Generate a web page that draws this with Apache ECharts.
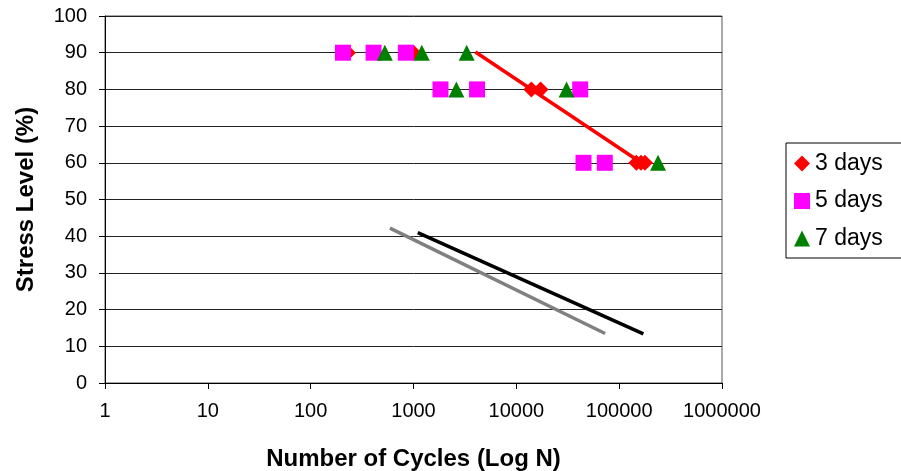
<!DOCTYPE html>
<html>
<head>
<meta charset="utf-8">
<script src="https://cdn.jsdelivr.net/npm/echarts@6/dist/echarts.min.js"></script>
<style>
html,body{margin:0;padding:0;background:#fff;}
#chart{width:901px;height:471px;}
</style>
</head>
<body>
<div id="chart"></div>
<script>
// Data
const xTicks = [1, 10, 100, 1000, 10000, 100000, 1000000];
const yTicks = [0, 10, 20, 30, 40, 50, 60, 70, 80, 90, 100];

const days3N = [230, 1000, 14000, 17200, 147000, 163000, 178000];
const days3S = [90, 90, 80, 80, 60, 60, 60];

const days5N = [206, 409, 842, 1830, 4150, 41800, 45000, 72500];
const days5S = [90, 90, 90, 80, 80, 80, 60, 60];

const days7N = [526, 1205, 3290, 2610, 30800, 239000];
const days7S = [90, 90, 90, 80, 80, 60];

const redLineN = [4000, 160000];
const redLineS = [90.2, 60.2];

const blackLineN = [1100, 172000];
const blackLineS = [41, 13.4];

const grayLineN = [590, 73000];
const grayLineS = [42.2, 13.5];

const zip = (a, b) => a.map((v, i) => [v, b[i]]);

const chart = echarts.init(document.getElementById('chart'), null, {renderer: 'canvas'});
const font = 'Liberation Sans, Arial, sans-serif';

chart.setOption({
  animation: false,
  backgroundColor: '#fff',
  grid: {
    left: 105, top: 16, width: 617, height: 367,
    containLabel: false, outerBoundsMode: 'none',
    show: true, borderColor: '#555', borderWidth: 1, backgroundColor: 'transparent'
  },
  legend: {
    orient: 'vertical',
    left: 786, top: 143,
    data: ['3 days', '5 days', '7 days'],
    itemWidth: 16, itemHeight: 16,
    itemGap: 14.5,
    padding: [9, 40, 8, 8],
    borderColor: '#000', borderWidth: 1,
    textStyle: {fontFamily: font, fontSize: 23, color: '#000', lineHeight: 22}
  },
  xAxis: {
    type: 'log', logBase: 10, min: xTicks[0], max: xTicks[xTicks.length - 1],
    interval: 1,
    name: 'Number of Cycles (Log N)', nameLocation: 'middle', nameGap: 64,
    nameTextStyle: {fontFamily: font, fontSize: 24, fontWeight: 'bold', color: '#000'},
    axisLine: {show: true, lineStyle: {color: '#000', width: 1}},
    axisTick: {show: true, inside: false, length: 6, lineStyle: {color: '#000'}},
    axisLabel: {
      margin: 18, fontFamily: font, fontSize: 20, color: '#000',
      formatter: v => String(Math.round(v)),
      showMinLabel: true, showMaxLabel: true
    },
    splitLine: {show: false},
    minorTick: {show: false}
  },
  yAxis: {
    type: 'value', min: yTicks[0], max: yTicks[yTicks.length - 1], interval: 10,
    name: 'Stress Level (%)', nameLocation: 'middle', nameGap: 67, nameRotate: 90,
    nameTextStyle: {fontFamily: font, fontSize: 24, fontWeight: 'bold', color: '#000'},
    axisLine: {show: true, lineStyle: {color: '#000', width: 1}},
    axisTick: {show: true, inside: false, length: 6, lineStyle: {color: '#000'}},
    axisLabel: {margin: 18, fontFamily: font, fontSize: 20, color: '#000'},
    splitLine: {show: true, lineStyle: {color: '#222', width: 1}}
  },
  series: [
    {
      name: 'black line', type: 'line', data: zip(blackLineN, blackLineS),
      showSymbol: false, symbol: 'none', lineStyle: {color: '#000', width: 3.5}, z: 2
    },
    {
      name: 'gray line', type: 'line', data: zip(grayLineN, grayLineS),
      showSymbol: false, symbol: 'none', lineStyle: {color: '#808080', width: 3.5}, z: 2
    },
    {
      name: 'red line', type: 'line', data: zip(redLineN, redLineS),
      showSymbol: false, symbol: 'none', lineStyle: {color: '#ff0000', width: 3.5}, z: 3
    },
    {
      name: '3 days', type: 'scatter', data: zip(days3N, days3S),
      symbol: 'diamond', symbolSize: 16, itemStyle: {color: '#ff0000', opacity: 1}, z: 4
    },
    {
      name: '5 days', type: 'scatter', data: zip(days5N, days5S),
      symbol: 'rect', symbolSize: 16, itemStyle: {color: '#ff00ff', opacity: 1}, z: 5
    },
    {
      name: '7 days', type: 'scatter', data: zip(days7N, days7S),
      symbol: 'triangle', symbolSize: 16, itemStyle: {color: '#008000', opacity: 1}, z: 6
    }
  ]
});
</script>
</body>
</html>
